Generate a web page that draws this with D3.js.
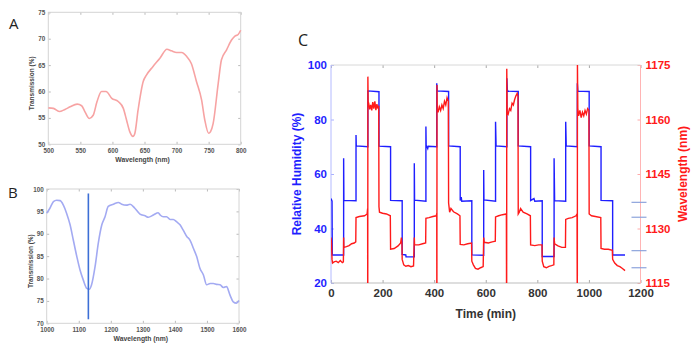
<!DOCTYPE html>
<html>
<head>
<meta charset="utf-8">
<script src="https://cdn.jsdelivr.net/npm/d3@7/dist/d3.min.js"></script>
<style>
body { margin: 0; background: #fff; }
svg { font-family: "Liberation Sans", Arial, sans-serif; }
</style>
</head>
<body>
<svg id="fig" width="700" height="350"></svg>
<script>
// ---- panel A : transmission spectrum (visible)
const aWavelength = [500, 508, 517, 526, 534, 545, 552, 557, 564, 570, 576, 583, 590, 599, 609, 617, 622, 627, 632, 635, 640, 648, 653, 663, 674, 685, 692, 700, 708, 716, 723, 731, 739, 744, 750, 753, 757, 765, 770, 778, 786, 791, 796, 800];
const aTransmission = [56.9, 56.8, 56.2, 56.6, 57.1, 57.6, 57.3, 56.2, 54.9, 55.5, 58.1, 60.0, 60.0, 58.7, 58.1, 56.8, 54.6, 52.4, 51.5, 52.1, 56.5, 61.9, 63.1, 64.7, 66.3, 68.0, 67.7, 67.4, 67.4, 66.6, 65.3, 61.9, 58.4, 54.6, 52.1, 52.4, 53.9, 61.6, 66.0, 67.9, 69.8, 70.5, 70.8, 71.6];
const aXTicks = [500, 550, 600, 650, 700, 750, 800];
const aYTicks = [50, 55, 60, 65, 70, 75];

// ---- panel B : transmission spectrum (NIR)
const bWavelength = [1000, 1010, 1021, 1031, 1042, 1052, 1062, 1073, 1083, 1094, 1104, 1114, 1125, 1133, 1140, 1151, 1161, 1172, 1182, 1192, 1208, 1224, 1234, 1249, 1260, 1275, 1291, 1307, 1317, 1333, 1348, 1354, 1364, 1374, 1385, 1395, 1405, 1416, 1426, 1437, 1447, 1458, 1468, 1478, 1489, 1499, 1510, 1520, 1530, 1541, 1551, 1561, 1572, 1582, 1592, 1600];
const bTransmission = [94.6, 95.7, 97.2, 97.5, 97.4, 96.4, 94.6, 92.0, 88.6, 84.9, 81.9, 79.7, 77.8, 77.6, 78.6, 82.7, 87.9, 92.0, 93.8, 96.1, 96.6, 97.0, 96.6, 96.4, 96.6, 95.7, 94.4, 94.0, 93.7, 94.2, 94.7, 94.2, 93.8, 93.8, 93.2, 93.2, 92.7, 92.0, 90.8, 89.4, 88.6, 86.7, 84.9, 82.3, 80.8, 78.6, 78.9, 78.9, 78.7, 78.6, 78.0, 78.2, 76.3, 74.8, 74.5, 75.1];
const bMarker = { wavelength: 1130, from: 70.9, to: 99.0 };
const bXTicks = [1000, 1100, 1200, 1300, 1400, 1500, 1600];
const bYTicks = [70, 75, 80, 85, 90, 95, 100];

// ---- panel C : humidity steps and resonance wavelength over time
const rhTime = [0, 4, 5, 49, 49, 50, 97, 97, 98, 143, 143, 186, 186, 231, 231, 276, 276, 290, 291, 323, 323, 324, 368, 368, 369, 375, 377, 410, 410, 412, 456, 456, 501, 501, 505, 507, 546, 546, 592, 592, 593, 638, 638, 640, 682, 682, 684, 726, 726, 774, 774, 787, 790, 819, 819, 865, 865, 867, 910, 910, 912, 955, 955, 957, 1001, 1001, 1047, 1047, 1092, 1092, 1140];
const rhValue = [51, 50, 30.3, 30.3, 65.8, 50.3, 50.2, 74.3, 70.3, 70, 90.5, 90.2, 70.2, 70, 50.3, 50.2, 30.5, 30.3, 29.6, 29.6, 63.9, 50.4, 50, 77.4, 70.5, 69.3, 70.2, 70, 93.3, 90.5, 90.3, 70.3, 70, 50.3, 51.5, 50, 50.2, 30.3, 30.2, 61.5, 50.5, 50, 79.2, 70.3, 70, 95.1, 90.4, 90.3, 70.3, 70, 50.3, 51, 50, 50.2, 29.7, 29.7, 65.8, 50.2, 50, 79.2, 70.3, 70, 93.3, 90.4, 90.3, 70.3, 70, 50.3, 50.2, 30.3, 30.3];

const wlTime = [0, 2, 4, 6, 12, 20, 28, 36, 44, 48,
  49, 50, 60, 70, 80, 90, 96,
  97, 110, 130, 140, 142,
  142.5, 143, 144, 146, 150, 154, 158, 162, 166, 170, 174, 178, 182, 185,
  186, 188, 200, 215, 230,
  231, 245, 260, 270, 273, 275,
  276, 282, 290, 300, 310, 320,
  323, 324, 340, 355, 367,
  368, 380, 395, 408, 410,
  410.5, 411, 412, 415, 420, 425, 430, 435, 440, 445, 450, 455,
  456, 460, 465, 475, 490, 500,
  501, 515, 530, 545,
  546, 552, 560, 570, 580, 590,
  592, 594, 610, 625, 637,
  638, 650, 665, 680,
  681, 681.5, 683, 687, 692, 697, 702, 707, 712, 717, 722, 725,
  726, 730, 735, 745, 760, 773,
  774, 790, 805, 818,
  819, 825, 835, 845, 855, 864,
  865, 867, 880, 895, 909,
  910, 920, 935, 950, 954,
  955, 955.5, 957, 960, 965, 970, 975, 980, 985, 990, 995, 1000,
  1001, 1010, 1025, 1046,
  1047, 1060, 1075, 1091,
  1092, 1100, 1110, 1120, 1130, 1140];
const wlValue = [1127.5, 1126, 1121.5, 1120.5, 1120.8, 1121, 1120.6, 1121.2, 1120.6, 1120.8,
  1127.5, 1124.8, 1125, 1125.3, 1125.8, 1126, 1126.3,
  1133, 1133.3, 1133.5, 1134, 1135.5,
  1100, 1171.8, 1165, 1164.5, 1162.8, 1164, 1162.5, 1164.8, 1163, 1165, 1162.6, 1164.2, 1163, 1163.8,
  1136, 1134.5, 1134.2, 1134, 1133.5,
  1124.3, 1124.5, 1125.2, 1126, 1127.5, 1126,
  1121.5, 1120, 1119.6, 1119.8, 1119.5, 1119.7,
  1127.5, 1125.5, 1125.5, 1125.8, 1126,
  1132.8, 1133, 1133.3, 1133.5, 1134,
  1100, 1169.5, 1163, 1162, 1163.5, 1162.5, 1164, 1163, 1165, 1164, 1166, 1165,
  1137, 1134.5, 1135.5, 1134.6, 1134, 1133.5,
  1125.6, 1125.5, 1125.8, 1126,
  1121, 1120, 1119, 1118.8, 1119.2, 1119.5,
  1127.5, 1126.2, 1126, 1126.3, 1126.5,
  1133.2, 1133.5, 1133.8, 1134,
  1100, 1174, 1162, 1161.5, 1163, 1162.5, 1164.5, 1164, 1165.5, 1166.5, 1167.2, 1166.5,
  1134, 1134.5, 1135.5, 1134.5, 1134, 1133.5,
  1125.5, 1125.3, 1125.5, 1125.5,
  1121, 1119.5, 1119.2, 1119.6, 1119.8, 1120,
  1127.5, 1125.8, 1125.2, 1124.8, 1124.8,
  1132.5, 1132.8, 1133, 1133.5, 1134,
  1100, 1175.5, 1163, 1161, 1162.5, 1160.5, 1162, 1161, 1162.5, 1161.5, 1163, 1162.5,
  1134, 1133.5, 1133.3, 1133,
  1124.5, 1124.3, 1124.3, 1124,
  1121.5, 1120.5, 1119.8, 1119.5, 1119, 1118.4];
const sideMarks = [1137.2, 1133.1, 1123.9, 1119.2];
const timeTicks = [0, 200, 400, 600, 800, 1000, 1200];
const rhTicks = [20, 40, 60, 80, 100];
const wlTicks = [1115, 1130, 1145, 1160, 1175];

const svg = d3.select('#fig');
const plain = d3.format('d');

function toPoints(xs, ys) {
    return xs.map((x, i) => [x, ys[i]]);
}

// small framed spectrum panels (A and B)
function spectrumPanel(cfg) {
    const g = svg.append('g');
    const x = d3.scaleLinear().domain(cfg.xdomain).range([cfg.left, cfg.right]);
    const y = d3.scaleLinear().domain(cfg.ydomain).range([cfg.bottom, cfg.top]);
    const tick = 2.5;

    const axes = [
        [d3.axisBottom(x).tickValues(cfg.xticks), cfg.bottom, true, 'x'],
        [d3.axisTop(x).tickValues(cfg.xticks), cfg.top, false, 'x'],
        [d3.axisLeft(y).tickValues(cfg.yticks), cfg.left, true, 'y'],
        [d3.axisRight(y).tickValues(cfg.yticks), cfg.right, false, 'y']
    ];
    axes.forEach(([ax, pos, labels, dir]) => {
        ax.tickSizeInner(-tick).tickSizeOuter(0).tickPadding(dir === 'x' ? 4 : 3);
        ax.tickFormat(labels ? plain : '');
        const ag = g.append('g')
            .attr('transform', dir === 'x' ? `translate(0,${pos})` : `translate(${pos},0)`)
            .call(ax);
        ag.select('.domain').remove();
        ag.selectAll('line').attr('stroke', '#bbb');
        ag.selectAll('text')
            .attr('fill', '#555')
            .style('font-size', '6.3px')
            .style('font-weight', 'bold');
    });

    g.append('rect')
        .attr('x', cfg.left).attr('y', cfg.top)
        .attr('width', cfg.right - cfg.left).attr('height', cfg.bottom - cfg.top)
        .attr('fill', 'none').attr('stroke', '#d4d4d4').attr('stroke-width', 1);

    g.append('path')
        .datum(cfg.points)
        .attr('d', d3.line().curve(d3.curveMonotoneX).x(d => x(d[0])).y(d => y(d[1])))
        .attr('fill', 'none')
        .attr('stroke', cfg.color)
        .attr('stroke-width', 1.6);

    if (cfg.marker) {
        g.append('line')
            .attr('x1', x(cfg.marker.wavelength)).attr('x2', x(cfg.marker.wavelength))
            .attr('y1', y(cfg.marker.from)).attr('y2', y(cfg.marker.to))
            .attr('stroke', '#3d6fd6').attr('stroke-width', 1.6);
    }

    g.append('text')
        .attr('x', (cfg.left + cfg.right) / 2 - 2)
        .attr('y', cfg.bottom + 18)
        .attr('text-anchor', 'middle')
        .attr('fill', '#444')
        .style('font-size', '6.8px').style('font-weight', 'bold')
        .text('Wavelength (nm)');

    g.append('text')
        .attr('transform', `translate(${cfg.left - 14},${(cfg.top + cfg.bottom) / 2 + 5}) rotate(-90)`)
        .attr('text-anchor', 'middle')
        .attr('fill', '#444')
        .style('font-size', '6.5px').style('font-weight', 'bold')
        .text('Transmission (%)');

    g.append('text')
        .attr('x', cfg.letterX).attr('y', cfg.letterY)
        .attr('fill', '#222')
        .style('font-family', '"Open Sans", sans-serif')
        .style('font-size', '15px')
        .text(cfg.letter);
}

spectrumPanel({
    letter: 'A', letterX: 9, letterY: 29,
    left: 48.3, right: 240.7, top: 12.3, bottom: 144.3,
    xdomain: [500, 800], ydomain: [50, 75],
    xticks: aXTicks, yticks: aYTicks,
    points: toPoints(aWavelength, aTransmission),
    color: '#f7a3a3'
});

spectrumPanel({
    letter: 'B', letterX: 8, letterY: 198,
    left: 46.7, right: 239, top: 189, bottom: 323.3,
    xdomain: [1000, 1600], ydomain: [70, 100],
    xticks: bXTicks, yticks: bYTicks,
    points: toPoints(bWavelength, bTransmission),
    color: '#a3aaf2',
    marker: bMarker
});

// ---- panel C with two y axes
const C = { left: 331, right: 640.5, top: 65, bottom: 283 };
const blue = '#1f1fff', red = '#ff1a1a';
const gc = svg.append('g');

const xt = d3.scaleLinear().domain([0, 1200]).range([C.left, C.right]);
const yrh = d3.scaleLinear().domain([20, 100]).range([C.bottom, C.top]);
const ywl = d3.scaleLinear().domain([1115, 1175]).range([C.bottom, C.top]);

svg.append('defs').append('clipPath').attr('id', 'clipC')
    .append('rect')
    .attr('x', C.left).attr('y', C.top)
    .attr('width', C.right - C.left).attr('height', C.bottom - C.top);

function styleAxis(sel, lineColor, textColor) {
    sel.select('.domain').remove();
    sel.selectAll('line').attr('stroke', lineColor);
    sel.selectAll('text')
        .attr('fill', textColor)
        .style('font-size', '11.5px')
        .style('font-weight', 'bold');
}

gc.append('g').attr('transform', `translate(0,${C.bottom})`)
    .call(d3.axisBottom(xt).tickValues(timeTicks).tickFormat(plain).tickSizeInner(-3).tickSizeOuter(0).tickPadding(6))
    .call(s => styleAxis(s, '#aaa', '#333'));
gc.append('g').attr('transform', `translate(0,${C.top})`)
    .call(d3.axisTop(xt).tickValues(timeTicks).tickSizeInner(-3).tickSizeOuter(0).tickFormat(''))
    .call(s => styleAxis(s, '#aaa', '#333'));
gc.append('g').attr('transform', `translate(${C.left},0)`)
    .call(d3.axisLeft(yrh).tickValues(rhTicks).tickFormat(plain).tickSizeInner(-3).tickSizeOuter(0).tickPadding(4))
    .call(s => styleAxis(s, '#a9b0ff', blue));
gc.append('g').attr('transform', `translate(${C.right},0)`)
    .call(d3.axisRight(ywl).tickValues(wlTicks).tickFormat(plain).tickSizeInner(-3).tickSizeOuter(0).tickPadding(5))
    .call(s => styleAxis(s, '#ffaaaa', red));

// frame edges
gc.append('line').attr('x1', C.left).attr('x2', C.right).attr('y1', C.top).attr('y2', C.top)
    .attr('stroke', '#d8d8d8');
gc.append('line').attr('x1', C.left).attr('x2', C.right).attr('y1', C.bottom).attr('y2', C.bottom)
    .attr('stroke', '#bdbdbd');
gc.append('line').attr('x1', C.left).attr('x2', C.left).attr('y1', C.top).attr('y2', C.bottom)
    .attr('stroke', '#b4baff');
gc.append('line').attr('x1', C.right).attr('x2', C.right).attr('y1', C.top).attr('y2', C.bottom)
    .attr('stroke', '#ffb4b4');

const plot = gc.append('g').attr('clip-path', 'url(#clipC)');

plot.append('path')
    .datum(toPoints(rhTime, rhValue))
    .attr('d', d3.line().x(d => xt(d[0])).y(d => yrh(d[1])))
    .attr('fill', 'none').attr('stroke', blue).attr('stroke-width', 1.4);

plot.append('path')
    .datum(toPoints(wlTime, wlValue))
    .attr('d', d3.line().x(d => xt(d[0])).y(d => ywl(d[1])))
    .attr('fill', 'none').attr('stroke', red).attr('stroke-width', 1.4);

// faint level marks beside the right axis
gc.selectAll('line.side')
    .data(sideMarks)
    .join('line')
    .attr('class', 'side')
    .attr('x1', C.right - 9).attr('x2', C.right + 6)
    .attr('y1', d => ywl(d)).attr('y2', d => ywl(d))
    .attr('stroke', '#8da4dc').attr('stroke-width', 1.2);

gc.append('text')
    .attr('x', (C.left + C.right) / 2).attr('y', 318)
    .attr('text-anchor', 'middle')
    .attr('fill', '#333')
    .style('font-size', '12px').style('font-weight', 'bold')
    .text('Time (min)');

gc.append('text')
    .attr('transform', `translate(301,${(C.top + C.bottom) / 2}) rotate(-90)`)
    .attr('text-anchor', 'middle')
    .attr('fill', blue)
    .style('font-size', '12px').style('font-weight', 'bold')
    .text('Relative Humidity (%)');

gc.append('text')
    .attr('transform', `translate(687,${(C.top + C.bottom) / 2}) rotate(-90)`)
    .attr('text-anchor', 'middle')
    .attr('fill', red)
    .style('font-size', '12px').style('font-weight', 'bold')
    .text('Wavelength (nm)');

gc.append('text')
    .attr('x', 298).attr('y', 46)
    .attr('fill', '#222')
    .style('font-family', '"Open Sans", sans-serif')
    .style('font-size', '16px')
    .text('C');
</script>
</body>
</html>
